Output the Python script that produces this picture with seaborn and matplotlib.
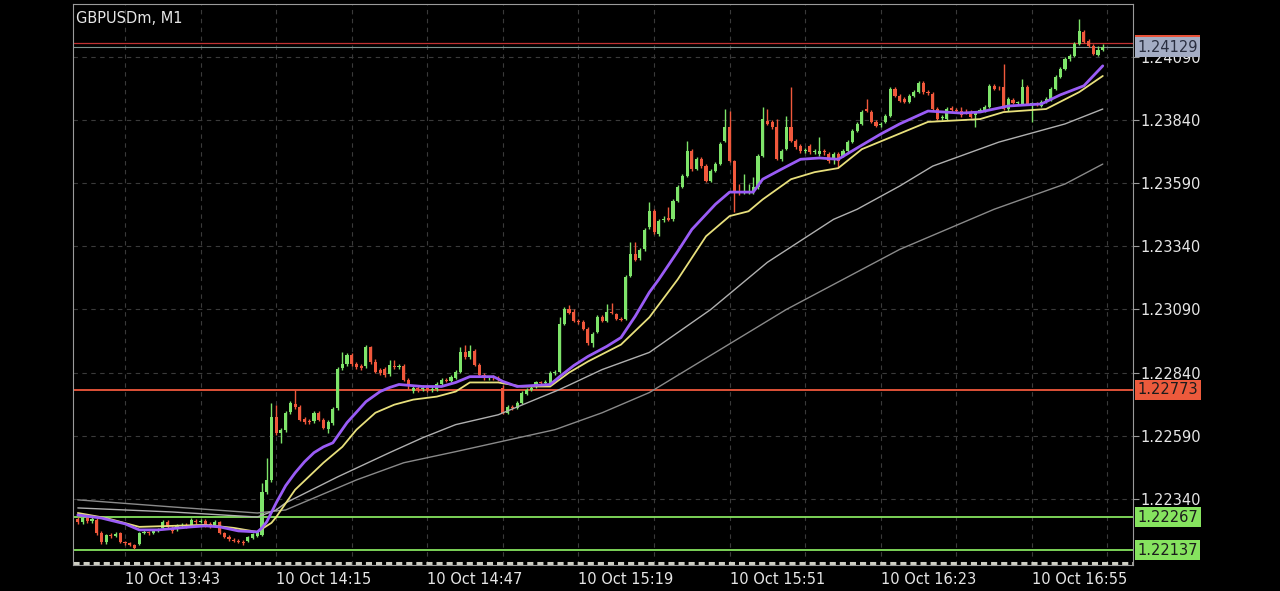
import numpy as np
import pandas as pd
import seaborn as sns
import matplotlib
matplotlib.use('Agg')
import matplotlib.pyplot as plt
from matplotlib.patches import Rectangle

############################## data ##############################

symbol_title = 'GBPUSDm, M1'
start_time = '2023-10-10 13:33'

# M1 candles, one row of ten per line
opens = [
    1.22260, 1.22249, 1.22264, 1.22253, 1.22257, 1.22205, 1.22169, 1.22197, 1.22193, 1.22205,
    1.22169, 1.22165, 1.22157, 1.22161, 1.22205, 1.22209, 1.22205, 1.22213, 1.22225, 1.22249,
    1.22225, 1.22221, 1.22233, 1.22237, 1.22237, 1.22253, 1.22249, 1.22253, 1.22241, 1.22233,
    1.22249, 1.22205, 1.22189, 1.22177, 1.22173, 1.22169, 1.22173, 1.22185, 1.22193, 1.22197,
    1.22368, 1.22415, 1.22666, 1.22602, 1.22614, 1.22685, 1.22717, 1.22705, 1.22658, 1.22650,
    1.22650, 1.22681, 1.22654, 1.22618, 1.22642, 1.22701, 1.22860, 1.22876, 1.22908, 1.22876,
    1.22868, 1.22868, 1.22943, 1.22884, 1.22852, 1.22856, 1.22836, 1.22868, 1.22864, 1.22868,
    1.22812, 1.22769, 1.22781, 1.22777, 1.22781, 1.22773, 1.22777, 1.22793, 1.22812, 1.22805,
    1.22820, 1.22844, 1.22920, 1.22900, 1.22924, 1.22872, 1.22832, 1.22820, 1.22824, 1.22820,
    1.22781, 1.22681, 1.22705, 1.22701, 1.22721, 1.22757, 1.22773, 1.22785, 1.22801, 1.22797,
    1.22793, 1.22840, 1.22844, 1.23031, 1.23090, 1.23082, 1.23043, 1.23039, 1.23011, 1.22959,
    1.22999, 1.23059, 1.23043, 1.23082, 1.23071, 1.23051, 1.23051, 1.23221, 1.23309, 1.23293,
    1.23328, 1.23416, 1.23479, 1.23388, 1.23444, 1.23452, 1.23447, 1.23519, 1.23575, 1.23618,
    1.23718, 1.23646, 1.23685, 1.23658, 1.23598, 1.23638, 1.23666, 1.23757, 1.23813, 1.23678,
    1.23559, 1.23555, 1.23557, 1.23555, 1.23575, 1.23698, 1.23837, 1.23833, 1.23813, 1.23685,
    1.23725, 1.23813, 1.23757, 1.23737, 1.23718, 1.23737, 1.23714, 1.23706, 1.23718, 1.23706,
    1.23685, 1.23706, 1.23698, 1.23718, 1.23753, 1.23797, 1.23825, 1.23884, 1.23872, 1.23833,
    1.23821, 1.23833, 1.23857, 1.23963, 1.23936, 1.23923, 1.23912, 1.23936, 1.23952, 1.23988,
    1.23952, 1.23944, 1.23884, 1.23849, 1.23844, 1.23888, 1.23880, 1.23876, 1.23872, 1.23872,
    1.23861, 1.23876, 1.23876, 1.23892, 1.23976, 1.23968, 1.23972, 1.23884, 1.23920, 1.23908,
    1.23904, 1.23972, 1.23904, 1.23906, 1.23896, 1.23912, 1.23923, 1.23963, 1.24011, 1.24042,
    1.24082, 1.24095, 1.24142, 1.24190, 1.24154, 1.24134, 1.24099, 1.24118,
]

highs = [
    1.22268, 1.22272, 1.22272, 1.22268, 1.22264, 1.22213, 1.22201, 1.22205, 1.22209, 1.22209,
    1.22173, 1.22169, 1.22161, 1.22209, 1.22217, 1.22213, 1.22221, 1.22225, 1.22257, 1.22257,
    1.22233, 1.22241, 1.22245, 1.22245, 1.22264, 1.22260, 1.22260, 1.22260, 1.22249, 1.22257,
    1.22253, 1.22209, 1.22197, 1.22185, 1.22181, 1.22177, 1.22193, 1.22205, 1.22213, 1.22403,
    1.22503, 1.22721, 1.22713, 1.22622, 1.22689, 1.22729, 1.22773, 1.22713, 1.22666, 1.22658,
    1.22689, 1.22689, 1.22662, 1.22654, 1.22705, 1.22864, 1.22920, 1.22916, 1.22916, 1.22884,
    1.22876, 1.22951, 1.22947, 1.22892, 1.22860, 1.22864, 1.22888, 1.22888, 1.22876, 1.22876,
    1.22820, 1.22789, 1.22789, 1.22789, 1.22789, 1.22785, 1.22801, 1.22820, 1.22820, 1.22832,
    1.22852, 1.22943, 1.22951, 1.22951, 1.22932, 1.22880, 1.22840, 1.22828, 1.22832, 1.22828,
    1.22789, 1.22713, 1.22713, 1.22729, 1.22769, 1.22781, 1.22789, 1.22808, 1.22808, 1.22812,
    1.22848, 1.22852, 1.23059, 1.23098, 1.23106, 1.23090, 1.23051, 1.23047, 1.23019, 1.22999,
    1.23067, 1.23067, 1.23110, 1.23114, 1.23078, 1.23059, 1.23225, 1.23356, 1.23356, 1.23332,
    1.23412, 1.23515, 1.23487, 1.23447, 1.23460, 1.23495, 1.23526, 1.23583, 1.23626, 1.23757,
    1.23725, 1.23694, 1.23694, 1.23666, 1.23646, 1.23674, 1.23753, 1.23884, 1.23876, 1.23682,
    1.23587, 1.23626, 1.23587, 1.23614, 1.23706, 1.23892, 1.23884, 1.23841, 1.23844, 1.23725,
    1.23857, 1.23972, 1.23765, 1.23745, 1.23730, 1.23745, 1.23725, 1.23773, 1.23725, 1.23714,
    1.23714, 1.23714, 1.23725, 1.23761, 1.23804, 1.23833, 1.23880, 1.23923, 1.23880, 1.23841,
    1.23833, 1.23864, 1.23972, 1.23972, 1.23944, 1.23932, 1.23944, 1.23960, 1.23995, 1.23995,
    1.23960, 1.23952, 1.23892, 1.23861, 1.23892, 1.23896, 1.23888, 1.23892, 1.23884, 1.23880,
    1.23876, 1.23888, 1.23900, 1.23984, 1.23984, 1.23976, 1.24063, 1.23932, 1.23928, 1.23916,
    1.24003, 1.23980, 1.23912, 1.23912, 1.23920, 1.23932, 1.23972, 1.24019, 1.24051, 1.24091,
    1.24103, 1.24150, 1.24241, 1.24198, 1.24161, 1.24142, 1.24134, 1.24142,
]

lows = [
    1.22241, 1.22241, 1.22245, 1.22245, 1.22197, 1.22161, 1.22161, 1.22185, 1.22189, 1.22165,
    1.22157, 1.22153, 1.22141, 1.22157, 1.22201, 1.22197, 1.22201, 1.22209, 1.22221, 1.22225,
    1.22205, 1.22213, 1.22225, 1.22225, 1.22233, 1.22241, 1.22245, 1.22229, 1.22225, 1.22229,
    1.22201, 1.22185, 1.22173, 1.22169, 1.22165, 1.22157, 1.22169, 1.22181, 1.22189, 1.22193,
    1.22360, 1.22408, 1.22594, 1.22562, 1.22606, 1.22678, 1.22697, 1.22650, 1.22638, 1.22638,
    1.22642, 1.22650, 1.22618, 1.22602, 1.22634, 1.22693, 1.22852, 1.22868, 1.22868, 1.22856,
    1.22852, 1.22860, 1.22876, 1.22840, 1.22832, 1.22824, 1.22828, 1.22856, 1.22856, 1.22805,
    1.22777, 1.22761, 1.22765, 1.22769, 1.22765, 1.22765, 1.22769, 1.22785, 1.22801, 1.22801,
    1.22816, 1.22840, 1.22892, 1.22892, 1.22868, 1.22828, 1.22812, 1.22812, 1.22812, 1.22808,
    1.22678, 1.22678, 1.22693, 1.22697, 1.22717, 1.22753, 1.22769, 1.22781, 1.22789, 1.22789,
    1.22789, 1.22832, 1.22840, 1.23027, 1.23071, 1.23039, 1.23031, 1.23007, 1.22951, 1.22940,
    1.22995, 1.23039, 1.23039, 1.23071, 1.23047, 1.23043, 1.23047, 1.23217, 1.23281, 1.23285,
    1.23321, 1.23407, 1.23388, 1.23380, 1.23436, 1.23440, 1.23440, 1.23515, 1.23571, 1.23614,
    1.23638, 1.23642, 1.23650, 1.23594, 1.23594, 1.23634, 1.23662, 1.23753, 1.23674, 1.23475,
    1.23543, 1.23547, 1.23547, 1.23547, 1.23566, 1.23694, 1.23821, 1.23804, 1.23682, 1.23678,
    1.23722, 1.23753, 1.23725, 1.23710, 1.23710, 1.23706, 1.23706, 1.23698, 1.23702, 1.23670,
    1.23666, 1.23654, 1.23694, 1.23714, 1.23749, 1.23793, 1.23821, 1.23872, 1.23829, 1.23813,
    1.23813, 1.23829, 1.23853, 1.23932, 1.23912, 1.23908, 1.23908, 1.23932, 1.23948, 1.23944,
    1.23940, 1.23880, 1.23841, 1.23841, 1.23841, 1.23872, 1.23868, 1.23853, 1.23864, 1.23849,
    1.23813, 1.23872, 1.23872, 1.23888, 1.23960, 1.23960, 1.23880, 1.23876, 1.23904, 1.23900,
    1.23900, 1.23900, 1.23833, 1.23896, 1.23892, 1.23908, 1.23916, 1.23960, 1.24007, 1.24039,
    1.24075, 1.24091, 1.24138, 1.24146, 1.24131, 1.24099, 1.24095, 1.24114,
]

closes = [
    1.22249, 1.22264, 1.22253, 1.22260, 1.22205, 1.22169, 1.22197, 1.22193, 1.22201, 1.22169,
    1.22165, 1.22157, 1.22145, 1.22205, 1.22209, 1.22205, 1.22213, 1.22217, 1.22249, 1.22229,
    1.22213, 1.22233, 1.22237, 1.22233, 1.22257, 1.22249, 1.22253, 1.22233, 1.22229, 1.22249,
    1.22205, 1.22189, 1.22181, 1.22173, 1.22169, 1.22165, 1.22189, 1.22201, 1.22209, 1.22368,
    1.22415, 1.22666, 1.22602, 1.22614, 1.22681, 1.22721, 1.22705, 1.22654, 1.22646, 1.22646,
    1.22681, 1.22654, 1.22622, 1.22646, 1.22697, 1.22856, 1.22876, 1.22908, 1.22876, 1.22864,
    1.22860, 1.22943, 1.22884, 1.22844, 1.22840, 1.22832, 1.22872, 1.22864, 1.22868, 1.22812,
    1.22785, 1.22781, 1.22777, 1.22781, 1.22773, 1.22777, 1.22793, 1.22812, 1.22808, 1.22824,
    1.22844, 1.22920, 1.22900, 1.22924, 1.22872, 1.22832, 1.22820, 1.22824, 1.22820, 1.22816,
    1.22681, 1.22705, 1.22701, 1.22721, 1.22761, 1.22773, 1.22781, 1.22801, 1.22797, 1.22801,
    1.22840, 1.22844, 1.23031, 1.23090, 1.23078, 1.23043, 1.23039, 1.23011, 1.22959, 1.22991,
    1.23059, 1.23043, 1.23082, 1.23078, 1.23051, 1.23049, 1.23217, 1.23309, 1.23288, 1.23325,
    1.23404, 1.23479, 1.23396, 1.23440, 1.23447, 1.23444, 1.23519, 1.23575, 1.23618, 1.23718,
    1.23646, 1.23685, 1.23658, 1.23598, 1.23638, 1.23666, 1.23745, 1.23813, 1.23678, 1.23559,
    1.23555, 1.23557, 1.23559, 1.23575, 1.23698, 1.23844, 1.23825, 1.23813, 1.23685, 1.23718,
    1.23813, 1.23757, 1.23734, 1.23718, 1.23722, 1.23714, 1.23718, 1.23718, 1.23714, 1.23678,
    1.23706, 1.23678, 1.23718, 1.23753, 1.23797, 1.23825, 1.23872, 1.23876, 1.23833, 1.23817,
    1.23825, 1.23857, 1.23963, 1.23936, 1.23916, 1.23912, 1.23936, 1.23952, 1.23988, 1.23952,
    1.23948, 1.23884, 1.23844, 1.23853, 1.23884, 1.23880, 1.23876, 1.23861, 1.23870, 1.23853,
    1.23868, 1.23880, 1.23892, 1.23976, 1.23963, 1.23966, 1.23884, 1.23923, 1.23908, 1.23910,
    1.23972, 1.23904, 1.23906, 1.23904, 1.23912, 1.23923, 1.23963, 1.24011, 1.24042, 1.24082,
    1.24095, 1.24142, 1.24194, 1.24150, 1.24134, 1.24103, 1.24118, 1.24129,
]

# moving averages at some candle positions
fast_ma_idx = [0, 5, 10, 13, 17, 24, 27, 30, 34, 38, 39, 40, 42, 44, 46, 48, 50, 52, 54, 57,
               61, 64, 66, 68, 73, 77, 80, 83, 88, 90, 93, 100, 102, 105, 108, 112, 115, 118,
               121, 123, 127, 130, 135, 138, 143, 145, 149, 153, 157, 161, 166, 170, 174, 180,
               187, 191, 197, 204, 208, 213, 217]
fast_ma = [1.22276, 1.22264, 1.22241, 1.22217, 1.22217, 1.22229, 1.22233, 1.22229, 1.22213,
           1.22209, 1.22225, 1.22249, 1.22324, 1.22392, 1.22443, 1.22487, 1.22523, 1.22546,
           1.22562, 1.22642, 1.22725, 1.22765, 1.22781, 1.22793, 1.22785, 1.22785, 1.22801,
           1.22824, 1.22824, 1.22805, 1.22785, 1.22793, 1.22824, 1.22868, 1.22904, 1.22944,
           1.22979, 1.23063, 1.23158, 1.23209, 1.23320, 1.23407, 1.23507, 1.23555, 1.23555,
           1.23606, 1.23646, 1.23685, 1.23690, 1.23685, 1.23741, 1.23785, 1.23825, 1.23876,
           1.23868, 1.23872, 1.23896, 1.23904, 1.23940, 1.23976, 1.24055]

mid_ma_idx = [0, 6, 13, 20, 27, 33, 38, 41, 42, 46, 52, 56, 59, 63, 67, 71, 76, 80, 83, 89,
              94, 100, 104, 108, 115, 121, 127, 133, 138, 142, 145, 151, 156, 161, 166, 180,
              191, 196, 205, 212, 217]
mid_ma = [1.22284, 1.22264, 1.22229, 1.22233, 1.22237, 1.22225, 1.22209, 1.22245, 1.22268,
          1.22376, 1.22483, 1.22546, 1.22614, 1.22681, 1.22713, 1.22733, 1.22745, 1.22765,
          1.22801, 1.22801, 1.22785, 1.22785, 1.22840, 1.22884, 1.22951, 1.23059, 1.23209,
          1.23380, 1.23460, 1.23479, 1.23526, 1.23606, 1.23634, 1.23650, 1.23725, 1.23833,
          1.23844, 1.23872, 1.23884, 1.23951, 1.24015]

slow_ma_idx = [0, 20, 38, 42, 44, 55, 66, 73, 80, 89, 102, 111, 121, 134, 146, 160, 165, 174,
               181, 195, 209, 217]
slow_ma = [1.22304, 1.22288, 1.22268, 1.22296, 1.22324, 1.22427, 1.22523, 1.22582, 1.22634,
           1.22673, 1.22773, 1.22852, 1.22920, 1.23090, 1.23277, 1.23447, 1.23487, 1.23579,
           1.23658, 1.23753, 1.23825, 1.23884]

slowest_ma_idx = [0, 20, 38, 44, 59, 69, 80, 101, 111, 121, 150, 174, 194, 209, 217]
slowest_ma = [1.22336, 1.22308, 1.22284, 1.22296, 1.22415, 1.22483, 1.22527, 1.22614,
              1.22681, 1.22761, 1.23090, 1.23328, 1.23487, 1.23587, 1.23666]

y_ticks = [1.22340, 1.22590, 1.22840, 1.23090, 1.23340, 1.23590, 1.23840, 1.24090]

# price levels drawn as horizontal lines with a tag on the price scale
ask_price = 1.24146
bid_price = 1.24129
resistance_level = 1.22773
support_levels = [1.22267, 1.22137]

############################## style ##############################

GREEN = '#7ee46a'
RED = '#f0583c'

sns.set_style('dark', {'axes.facecolor': 'black', 'figure.facecolor': 'black'})
plt.rcParams['font.family'] = ['DejaVu Sans']

idx = np.arange(len(closes))
times = pd.date_range(start_time, periods=len(closes), freq='min')

fig = plt.figure(figsize=(12.8, 5.91), dpi=100, facecolor='black')
ax = fig.add_axes([73 / 1280, 26 / 591, 1060 / 1280, 561 / 591])
ax.set_facecolor('black')

############################## candles ##############################

o = np.array(opens)
c = np.array(closes)
cols = [GREEN if cc >= oo else RED for oo, cc in zip(o, c)]
body_bottom = np.minimum(o, c)
body_height = np.maximum(np.abs(c - o), 0.00003)

ax.vlines(idx, lows, highs, colors=cols, linewidth=1.0, zorder=2)
ax.bar(idx, body_height, bottom=body_bottom, width=0.66, color=cols, linewidth=0, zorder=2)

############################## moving averages ##############################

line_kw = dict(ax=ax, solid_joinstyle='round', solid_capstyle='round')
sns.lineplot(x=slowest_ma_idx, y=slowest_ma, color='#8a8a8a', linewidth=1.0, zorder=3, **line_kw)
sns.lineplot(x=slow_ma_idx, y=slow_ma, color='#b0b0b0', linewidth=1.0, zorder=3, **line_kw)
sns.lineplot(x=mid_ma_idx, y=mid_ma, color='#e8e07c', linewidth=1.3, zorder=4, **line_kw)
sns.lineplot(x=fast_ma_idx, y=fast_ma, color='#9a5cf6', linewidth=2.0, zorder=5, **line_kw)

############################## levels ##############################

ax.axhline(ask_price, color='#c03232', linewidth=0.9, zorder=1)
ax.axhline(bid_price, color='#7e9490', linewidth=0.8, zorder=1)
ax.axhline(resistance_level, color=RED, linewidth=1.3, zorder=1)
for lvl in support_levels:
    ax.axhline(lvl, color='#86e35f', linewidth=1.3, zorder=1)

# bottom separator strip
ax.axhline(1.22087, color='#cfcfc4', linewidth=2.2, linestyle=(0, (2, 1.3)), zorder=1)


def price_tag(price, face, text_color='#1c1c1c', z=10):
    ax.text(1.0042, price, f'{price:.5f}', transform=ax.get_yaxis_transform(),
            ha='left', va='center', fontsize=10.5, color=text_color, clip_on=False, zorder=z,
            bbox=dict(boxstyle='square,pad=0.17', fc=face, ec='none'))


# ask tag sits behind the bid tag, only its top edge shows
ax.add_patch(Rectangle((1.0019, ask_price - 0.00033), 65 / 1060, 0.00066,
                       transform=ax.get_yaxis_transform(), clip_on=False,
                       facecolor='#e8533a', edgecolor='none', zorder=9))
price_tag(bid_price, '#a4adc4', text_color='#2a2f40', z=11)
price_tag(resistance_level, '#ec5a3c')
for lvl in support_levels:
    price_tag(lvl, '#86e35f')

############################## axes ##############################

ax.set_xlim(-1.02, 223.4)
ax.set_ylim(1.22078, 1.24300)

grid_pos = [i for i in idx if (i - 10) % 16 == 0] + [218]
grid_lbl = []
for i in grid_pos:
    if (i - 10) % 32 == 0 and i < len(times):
        t = times[i]
        grid_lbl.append(f'{t.day} {t:%b %H:%M}')
    else:
        grid_lbl.append('')
ax.set_xticks(grid_pos)
ax.set_xticklabels(grid_lbl)
for lbl in ax.get_xticklabels():
    lbl.set_horizontalalignment('left')
ax.tick_params(axis='x', length=0, pad=5, labelsize=10.5, labelcolor='#e6e6e6')

ax.yaxis.tick_right()
ax.set_yticks(y_ticks)
ax.set_yticklabels([f'{v:.5f}' for v in y_ticks])
ax.tick_params(axis='y', length=4, width=0.8, color='#9a9a9a', pad=1,
               labelsize=10.5, labelcolor='#e6e6e6')

ax.grid(True, color='#3a3a3a', linewidth=0.8, linestyle=(0, (4, 4)))
ax.set_axisbelow(True)
for sp in ax.spines.values():
    sp.set_visible(True)
    sp.set_color('#9a9a9a')
    sp.set_linewidth(0.8)

ax.set_xlabel('')
ax.set_ylabel('')
ax.text(0.003, 0.988, symbol_title, transform=ax.transAxes, ha='left', va='top',
        fontsize=10.5, color='#e6e6e6')

fig.savefig('out.png', dpi=100, facecolor='black')
